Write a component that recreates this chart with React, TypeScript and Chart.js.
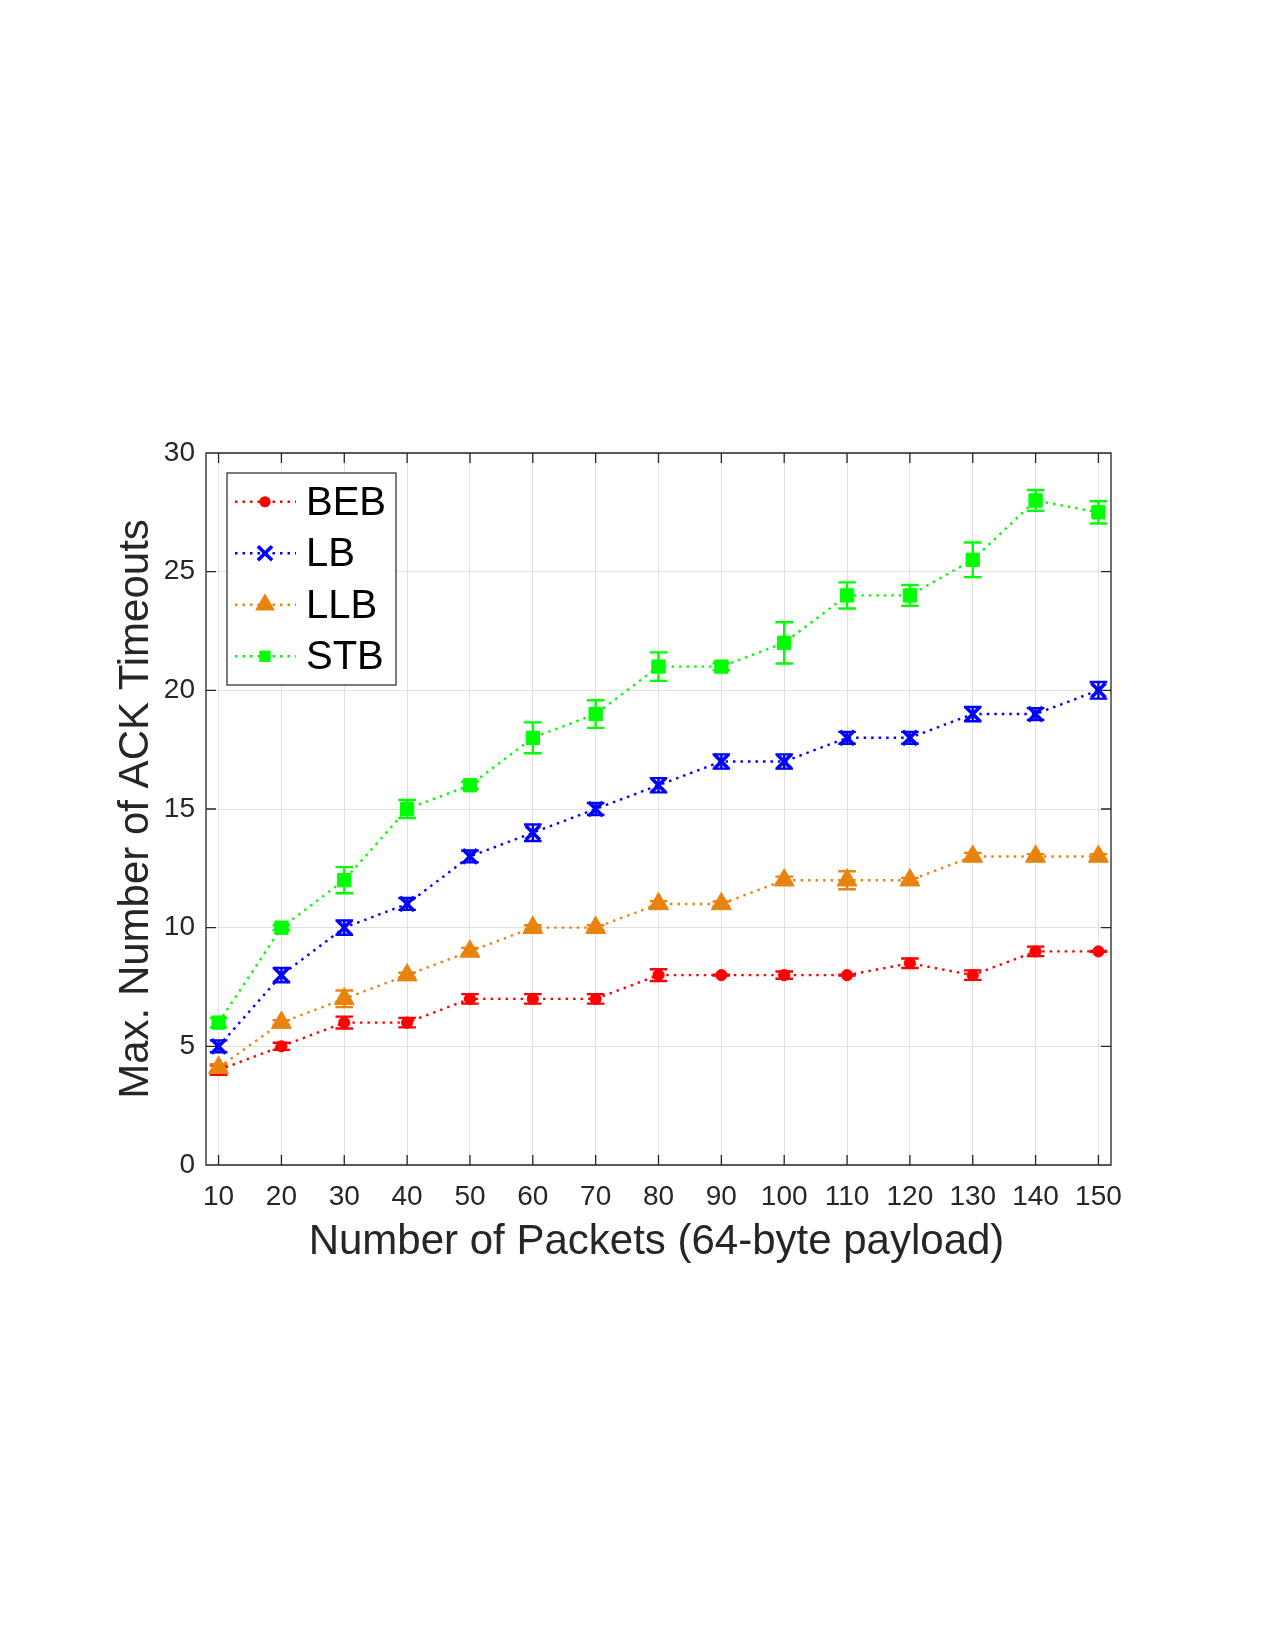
import { useEffect, useRef } from "react";
import { Chart, registerables } from "chart.js";

Chart.register(...registerables);

// Packet counts on the x axis
const packets = [10, 20, 30, 40, 50, 60, 70, 80, 90, 100, 110, 120, 130, 140, 150];
const xTicks = [10, 20, 30, 40, 50, 60, 70, 80, 90, 100, 110, 120, 130, 140, 150];
const yTicks = [0, 5, 10, 15, 20, 25, 30];

// Mean of the maximum number of ACK timeouts and the half-width of its error bar
const bebValues = [4, 5, 6, 6, 7, 7, 7, 8, 8, 8, 8, 8.5, 8, 9, 9];
const bebErrors = [0.2, 0.15, 0.25, 0.2, 0.2, 0.2, 0.2, 0.25, 0.02, 0.15, 0.02, 0.2, 0.2, 0.2, 0.02];

const lbValues = [5, 8, 10, 11, 13, 14, 15, 16, 17, 17, 18, 18, 19, 19, 20];
const lbErrors = [0.25, 0.3, 0.3, 0.25, 0.25, 0.35, 0.25, 0.3, 0.3, 0.3, 0.25, 0.25, 0.3, 0.25, 0.35];

const llbValues = [4.1, 6, 7, 8, 9, 10, 10, 11, 11, 12, 12, 12, 13, 13, 13];
const llbErrors = [0.15, 0.1, 0.35, 0.1, 0.15, 0.1, 0.1, 0.12, 0.1, 0.15, 0.38, 0.1, 0.15, 0.1, 0.1];

const stbValues = [6, 10, 12, 15, 16, 18, 19, 21, 21, 22, 24, 24, 25.5, 28, 27.5];
const stbErrors = [0.2, 0.1, 0.55, 0.38, 0.15, 0.65, 0.58, 0.6, 0.15, 0.87, 0.55, 0.44, 0.73, 0.44, 0.47];

const seriesNames = ["BEB", "LB", "LLB", "STB"];
const seriesColors = ["#ff0000", "#0000ff", "#e8830e", "#00ff00"];
const seriesValues = [bebValues, lbValues, llbValues, stbValues];
const seriesErrors = [bebErrors, lbErrors, llbErrors, stbErrors];
const seriesMarkers = ["circle", "crossRot", "triangle", "rect"];
const markerRadius = [5.6, 10, 11.5, 9.4];
const markerBorder = [1, 3.6, 1, 1];

const FONT = "'Liberation Sans', Arial, Helvetica, sans-serif";
const AXIS_COLOR = "#262626";
const GRID_COLOR = "#e1e1e1";

function drawMarker(ctx: CanvasRenderingContext2D, kind: string, x: number, y: number, r: number, color: string) {
  ctx.save();
  ctx.fillStyle = color;
  ctx.strokeStyle = color;
  ctx.beginPath();
  if (kind === "circle") {
    ctx.arc(x, y, r, 0, Math.PI * 2);
    ctx.fill();
  } else if (kind === "crossRot") {
    const d = r * Math.SQRT1_2;
    ctx.lineWidth = 3.6;
    ctx.moveTo(x - d, y - d);
    ctx.lineTo(x + d, y + d);
    ctx.moveTo(x - d, y + d);
    ctx.lineTo(x + d, y - d);
    ctx.stroke();
  } else if (kind === "triangle") {
    ctx.moveTo(x, y - r);
    ctx.lineTo(x + r * Math.sin((2 * Math.PI) / 3), y - r * Math.cos((2 * Math.PI) / 3));
    ctx.lineTo(x + r * Math.sin((4 * Math.PI) / 3), y - r * Math.cos((4 * Math.PI) / 3));
    ctx.closePath();
    ctx.fill();
  } else {
    const s = r * Math.SQRT1_2;
    ctx.rect(x - s, y - s, 2 * s, 2 * s);
    ctx.fill();
  }
  ctx.restore();
}

// Error bars, axes box with inward ticks, axis titles and the legend
const figurePlugin = {
  id: "figureDecorations",
  beforeDatasetsDraw(chart: any) {
    const { ctx, chartArea, scales } = chart;
    const { left, right, top, bottom } = chartArea;
    ctx.save();
    ctx.strokeStyle = AXIS_COLOR;
    ctx.lineWidth = 1.3;
    ctx.beginPath();
    ctx.rect(left, top, right - left, bottom - top);
    const tl = 10;
    xTicks.forEach((v) => {
      const px = scales.x.getPixelForValue(v);
      ctx.moveTo(px, bottom);
      ctx.lineTo(px, bottom - tl);
      ctx.moveTo(px, top);
      ctx.lineTo(px, top + tl);
    });
    yTicks.forEach((v) => {
      const py = scales.y.getPixelForValue(v);
      ctx.moveTo(left, py);
      ctx.lineTo(left + tl, py);
      ctx.moveTo(right, py);
      ctx.lineTo(right - tl, py);
    });
    ctx.stroke();
    ctx.restore();
  },
  afterDatasetDraw(chart: any, args: any) {
    const { ctx, scales } = chart;
    const i = args.index;
    const errs = seriesErrors[i];
    const vals = seriesValues[i];
    ctx.save();
    ctx.strokeStyle = seriesColors[i];
    ctx.lineWidth = 2.4;
    ctx.setLineDash([]);
    ctx.beginPath();
    args.meta.data.forEach((el: any, k: number) => {
      const x = el.x;
      const yHi = scales.y.getPixelForValue(vals[k] + errs[k]);
      const yLo = scales.y.getPixelForValue(vals[k] - errs[k]);
      const cap = 8.8;
      ctx.moveTo(x, yHi);
      ctx.lineTo(x, yLo);
      ctx.moveTo(x - cap, yHi);
      ctx.lineTo(x + cap, yHi);
      ctx.moveTo(x - cap, yLo);
      ctx.lineTo(x + cap, yLo);
    });
    ctx.stroke();
    ctx.restore();
  },
  afterDraw(chart: any) {
    const { ctx, chartArea } = chart;
    const { left, right, top, bottom } = chartArea;
    ctx.save();
    // axis titles
    ctx.fillStyle = AXIS_COLOR;
    ctx.font = `42px ${FONT}`;
    ctx.textAlign = "center";
    ctx.textBaseline = "alphabetic";
    ctx.fillText("Number of Packets (64-byte payload)", (left + right) / 2 - 2, 1254);
    ctx.translate(148, (top + bottom) / 2);
    ctx.rotate(-Math.PI / 2);
    ctx.fillText("Max. Number of ACK Timeouts", 0, 0);
    ctx.restore();

    // legend
    ctx.save();
    const bx = 227, by = 473, bw = 169, bh = 212;
    ctx.fillStyle = "#ffffff";
    ctx.fillRect(bx, by, bw, bh);
    ctx.strokeStyle = AXIS_COLOR;
    ctx.lineWidth = 1.2;
    ctx.strokeRect(bx, by, bw, bh);
    const rowGap = 51.5;
    const cy0 = by + bh / 2 - 1.5 * rowGap;
    seriesNames.forEach((name, i) => {
      const cy = cy0 + i * rowGap;
      ctx.save();
      ctx.strokeStyle = seriesColors[i];
      ctx.lineWidth = 2.4;
      ctx.setLineDash([2.5, 5]);
      ctx.beginPath();
      ctx.moveTo(235, cy);
      ctx.lineTo(296, cy);
      ctx.stroke();
      ctx.restore();
      const r = seriesMarkers[i] === "rect" ? 8 : markerRadius[i];
      drawMarker(ctx, seriesMarkers[i], 265, cy, r, seriesColors[i]);
      ctx.fillStyle = "#000000";
      ctx.font = `40px ${FONT}`;
      ctx.textAlign = "left";
      ctx.textBaseline = "middle";
      ctx.fillText(name, 306, cy + 2);
    });
    ctx.restore();
  },
};

export default function App() {
  const canvasRef = useRef<HTMLCanvasElement | null>(null);

  useEffect(() => {
    const canvas = canvasRef.current;
    if (!canvas) return;
    const datasets = seriesNames.map((name, i) => ({
      label: name,
      data: packets.map((x, k) => ({ x, y: seriesValues[i][k] })),
      borderColor: seriesColors[i],
      backgroundColor: seriesColors[i],
      borderWidth: 2.4,
      borderDash: [2.5, 5],
      pointStyle: seriesMarkers[i],
      pointRadius: markerRadius[i],
      pointBorderWidth: markerBorder[i],
      pointBackgroundColor: seriesColors[i],
      pointBorderColor: seriesColors[i],
      tension: 0,
      fill: false,
      order: seriesNames.length - i,
    }));

    const chart = new Chart(canvas, {
      type: "line",
      data: { datasets },
      plugins: [figurePlugin],
      options: {
        responsive: false,
        animation: false,
        devicePixelRatio: 1,
        layout: { padding: { top: 453, right: 164, bottom: 0, left: 0 } },
        plugins: {
          legend: { display: false },
          tooltip: { enabled: false },
          title: { display: false },
        },
        scales: {
          x: {
            type: "linear",
            min: 8,
            max: 152,
            afterFit: (s: any) => {
              s.height = 485;
            },
            afterBuildTicks: (s: any) => {
              s.ticks = xTicks.map((v) => ({ value: v }));
            },
            grid: { color: GRID_COLOR, lineWidth: 1, drawTicks: false },
            border: { display: false },
            ticks: {
              color: AXIS_COLOR,
              font: { family: FONT, size: 28 },
              padding: 15,
              maxRotation: 0,
              autoSkip: false,
            },
          },
          y: {
            type: "linear",
            min: 0,
            max: 30,
            afterFit: (s: any) => {
              s.width = 206;
            },
            afterBuildTicks: (s: any) => {
              s.ticks = yTicks.map((v) => ({ value: v }));
            },
            grid: { color: GRID_COLOR, lineWidth: 1, drawTicks: false },
            border: { display: false },
            ticks: {
              color: AXIS_COLOR,
              font: { family: FONT, size: 28 },
              padding: 11,
            },
          },
        },
      },
    } as any);

    return () => chart.destroy();
  }, []);

  return (
    <div style={{ position: "absolute", left: 0, top: 0, width: 1275, height: 1650, background: "#ffffff" }}>
      <canvas ref={canvasRef} width={1275} height={1650} style={{ width: 1275, height: 1650, display: "block" }} />
    </div>
  );
}
